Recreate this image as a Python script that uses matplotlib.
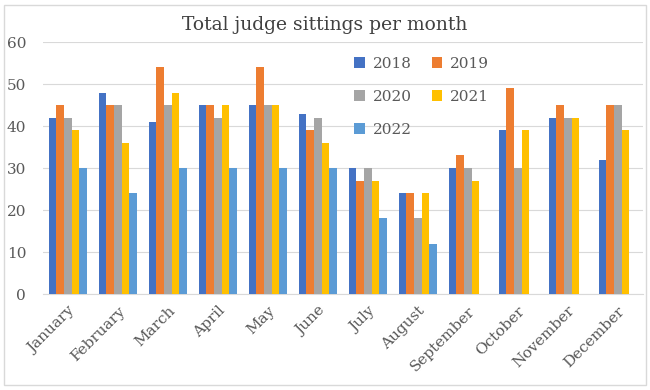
import matplotlib
matplotlib.use("Agg")
import matplotlib.pyplot as plt
import numpy as np
from matplotlib.patches import Rectangle

# data
months = ["January", "February", "March", "April", "May", "June",
          "July", "August", "September", "October", "November", "December"]
years = ["2018", "2019", "2020", "2021", "2022"]
s2018 = [42, 48, 41, 45, 45, 43, 30, 24, 30, 39, 42, 32]
s2019 = [45, 45, 54, 45, 54, 39, 27, 24, 33, 49, 45, 45]
s2020 = [42, 45, 45, 42, 45, 42, 30, 18, 30, 30, 42, 45]
s2021 = [39, 36, 48, 45, 45, 36, 27, 24, 27, 39, 42, 39]
s2022 = [30, 24, 30, 30, 30, 30, 18, 12, np.nan, np.nan, np.nan, np.nan]

colors = ["#4472C4", "#ED7D31", "#A5A5A5", "#FFC000", "#5B9BD5"]
TXT = "#595959"

plt.rcParams['font.family'] = ['DejaVu Serif']

fig = plt.figure(figsize=(6.5, 3.9), dpi=100)
ax = fig.add_axes([0.066, 0.246, 0.923, 0.646])

x = np.arange(len(months))
bw = 0.152
series = [s2018, s2019, s2020, s2021, s2022]
handles = []
for i, (vals, c, lab) in enumerate(zip(series, colors, years)):
    b = ax.bar(x + (i - 2) * bw, vals, bw, color=c, label=lab, zorder=3)
    handles.append(b)

ax.set_xlim(-0.5, len(months) - 0.5)
ax.set_ylim(0, 60)
ax.set_yticks(range(0, 61, 10))
ax.yaxis.grid(True, color="#D9D9D9", linewidth=0.8, zorder=0)
ax.set_axisbelow(True)
for s in ["top", "right", "left"]:
    ax.spines[s].set_visible(False)
ax.spines["bottom"].set_color("#D9D9D9")
ax.tick_params(axis="both", length=0, colors=TXT, labelsize=11)
ax.tick_params(axis="y", pad=12)
ax.tick_params(axis="x", pad=7)
ax.set_xticks(x)
ax.set_xticklabels(months, rotation=45, ha="right", rotation_mode="anchor")

# legend laid out row by row: 2018 2019 / 2020 2021 / 2022
order = [0, 2, 4, 1, 3]
ax.legend([handles[k] for k in order], [years[k] for k in order],
          ncol=2, loc="upper left", bbox_to_anchor=(0.524, 0.89),
          bbox_transform=fig.transFigure, frameon=False, fontsize=11,
          handlelength=0.7, handleheight=0.7, handletextpad=0.5,
          labelspacing=1.25, columnspacing=1.3, labelcolor=TXT)

fig.text(0.5, 0.935, "Total judge sittings per month", ha="center",
         va="center", fontsize=13.5, color="#404040")

fig.patches.append(Rectangle((0.006, 0.012), 0.988, 0.976, fill=False,
                             edgecolor="#D9D9D9", linewidth=1,
                             transform=fig.transFigure, figure=fig))

fig.savefig("out.png", dpi=100)
